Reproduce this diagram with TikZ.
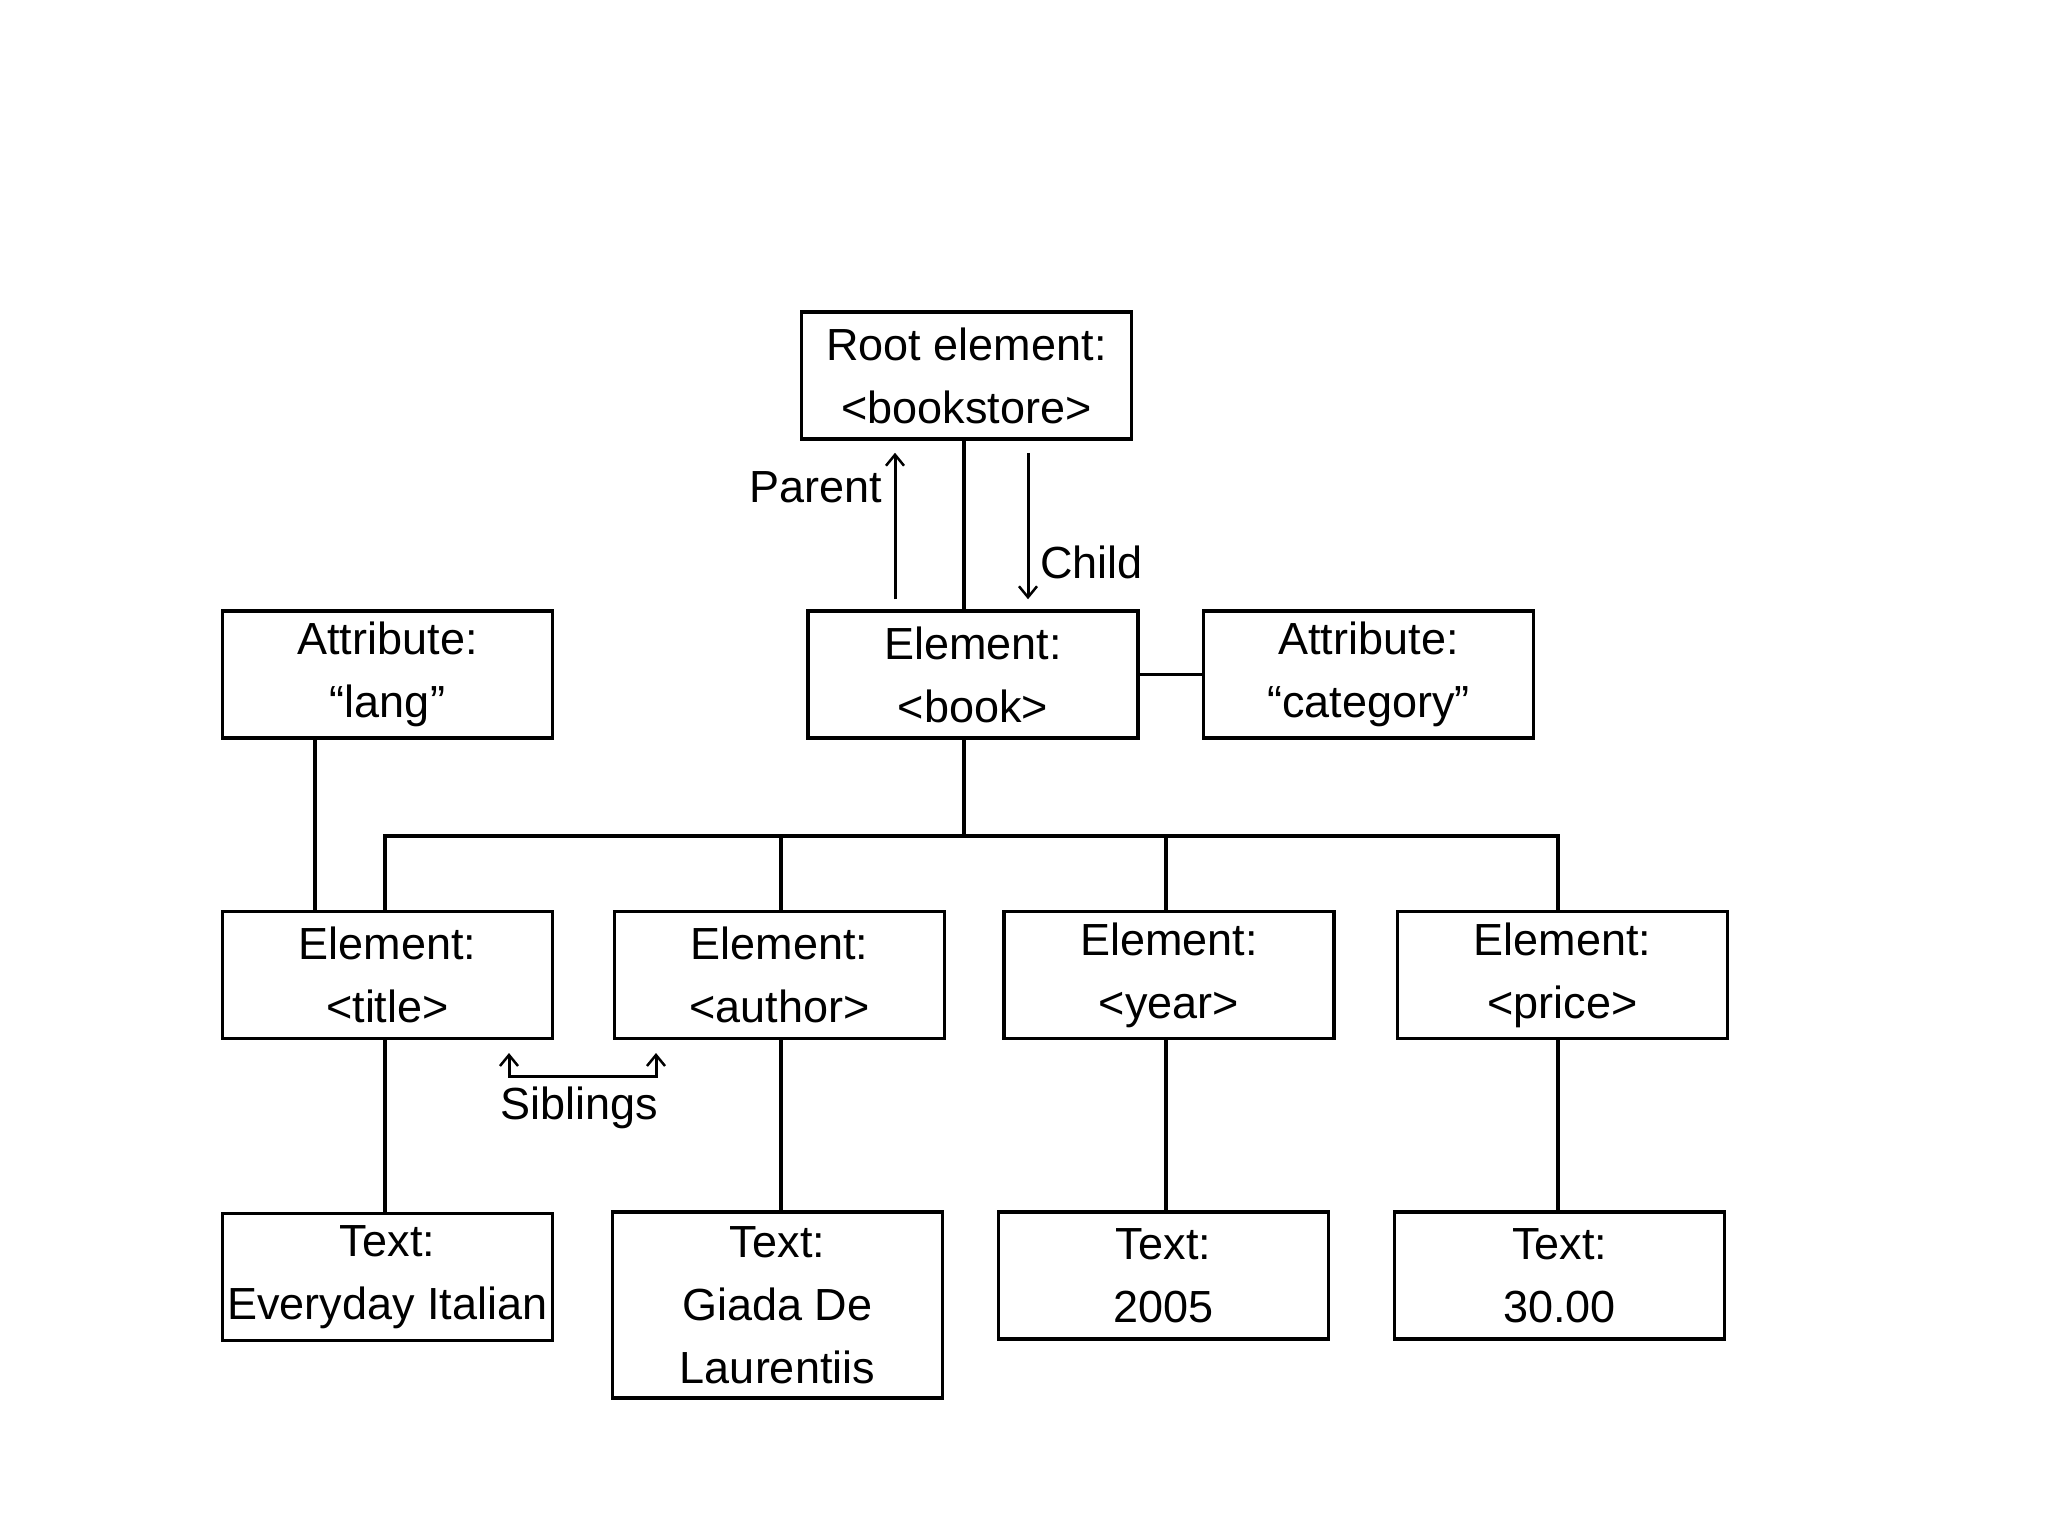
\documentclass[tikz,border=0pt]{standalone}
\usepackage{fontspec}
\setmainfont{Liberation Sans}
\usetikzlibrary{arrows.meta,calc}
\begin{document}
\begin{tikzpicture}[x=1pt,y=-1pt,
  box/.style={draw,line width=3.5pt,minimum width=330pt,minimum height=127pt,inner sep=0pt,align=center,font=\fontsize{45}{63}\selectfont},
  conn/.style={line width=3.5pt},
  rel/.style={line width=3pt,-{Straight Barb[length=11pt,width=18pt,line width=2.5pt]}},
  sibl/.style={line width=3pt,{Straight Barb[length=11pt,width=18pt,line width=2.5pt]}-{Straight Barb[length=11pt,width=18pt,line width=2.5pt]}},
  lbl/.style={font=\fontsize{45}{54}\selectfont,inner sep=0pt}]
\fill[white] (0,0) rectangle (2048,1536);
\useasboundingbox (0,0) rectangle (2048,1536);
\node[box] (root) at (966.5,375.5) {Root element:\\<bookstore>};
\node[box] (book) at (973,674.5) {Element:\\<book>};
\node[box] (cat) at (1368.5,674.5) {Attribute:\\“category”};
\node[box] (lang) at (387.5,674.5) {Attribute:\\“lang”};
\node[box] (title) at (387.5,975) {Element:\\<title>};
\node[box] (author) at (779.5,975) {Element:\\<author>};
\node[box] (year) at (1169,975) {Element:\\<year>};
\node[box] (price) at (1562.5,975) {Element:\\<price>};
\node[box] (ttitle) at (387.5,1277) {Text:\\Everyday Italian};
\node[box,minimum height=186pt] (tauthor) at (777.5,1305) {Text:\\Giada De\\Laurentiis};
\node[box] (tyear) at (1163.5,1275.5) {Text:\\2005};
\node[box] (tprice) at (1559.5,1275.5) {Text:\\30.00};
\coordinate (bus) at (964,836);
% root to book
\draw[conn] ([xshift=-2.5pt]root.south) -- ([xshift=-2.5pt]root.south |- book.north);
% book to category
\draw[conn] (book.east) -- (cat.west);
% lang to title
\draw[conn] ([xshift=-72.5pt]lang.south) -- ([xshift=-72.5pt]lang.south |- title.north);
% book to bus
\draw[conn] (bus |- book.south) -- (bus);
\draw[conn] ([xshift=-2.5pt]title.north) |- (bus) -| ([xshift=-4.5pt]price.north);
\draw[conn] ([xshift=1.5pt]author.north) -- ([xshift=1.5pt]author.north |- bus);
\draw[conn] ([xshift=-3pt]year.north) -- ([xshift=-3pt]year.north |- bus);
% elements to texts
\draw[conn] ([xshift=-2.5pt]title.south) -- ([xshift=-2.5pt]title.south |- ttitle.north);
\draw[conn] ([xshift=1.5pt]author.south) -- ([xshift=1.5pt]author.south |- tauthor.north);
\draw[conn] ([xshift=-3pt]year.south) -- ([xshift=-3pt]year.south |- tyear.north);
\draw[conn] ([xshift=-4.5pt]price.south) -- ([xshift=-4.5pt]price.south |- tprice.north);
% parent / child
\coordinate (pa) at ($(book.north)+(-78,-10)$);
\coordinate (pb) at ($(root.south)+(-71.5,12)$);
\coordinate (ca) at ($(root.south)+(61.5,12)$);
\coordinate (cb) at ($(book.north)+(55,-10)$);
\draw[rel] (pa) -- (pb);
\draw[rel] (ca) -- (cb);
\node[lbl,anchor=east] (parent) at (882,487) {Parent};
\node[lbl,anchor=west] (child) at (1040,562) {Child};
% siblings
\coordinate (s1) at (509,1053);
\coordinate (s2) at (509,1076);
\coordinate (s3) at (656,1076);
\coordinate (s4) at (656,1053);
\draw[sibl] (s1) -- (s2) -- (s3) -- (s4);
\node[lbl] (sib) at (579,1108) {Siblings};
\end{tikzpicture}
\end{document}
